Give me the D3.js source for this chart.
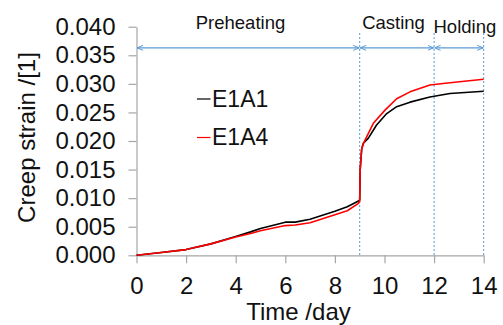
<!DOCTYPE html>
<html>
<head>
<meta charset="utf-8">
<script src="https://cdn.jsdelivr.net/npm/d3@7"></script>
<style>
  body { margin: 0; background: #fff; }
  svg { display: block; font-family: "Liberation Sans", Arial, sans-serif; }
</style>
</head>
<body>
<div id="chart"></div>
<script>
// Creep strain vs time, two specimens
const daysE1A1 = [0, 1, 2, 3, 4, 4.6, 5, 6, 6.4, 7, 8, 8.5, 8.95, 9.0, 9.02, 9.08, 9.15, 9.35, 9.68, 10.09, 10.49, 11.03, 11.83, 12.64, 14];
const strainE1A1 = [0, 0.0005, 0.0010, 0.0020, 0.0033, 0.0041, 0.0047, 0.0058, 0.0058, 0.0063, 0.0077, 0.0085, 0.0095, 0.0097, 0.0150, 0.0186, 0.0196, 0.0205, 0.0228, 0.0248, 0.0260, 0.0268, 0.0277, 0.0283, 0.0287];

const daysE1A4 = [0, 1, 2, 3, 4, 4.6, 5, 6, 6.4, 7, 8, 8.5, 8.95, 9.0, 9.02, 9.08, 9.15, 9.55, 10.02, 10.49, 11.03, 11.83, 12.64, 14];
const strainE1A4 = [0, 0.0005, 0.0010, 0.0020, 0.0032, 0.0038, 0.0043, 0.0052, 0.0053, 0.0057, 0.0071, 0.0078, 0.0091, 0.0094, 0.0150, 0.0186, 0.0196, 0.0231, 0.0254, 0.0274, 0.0286, 0.0298, 0.0302, 0.0308];

const xTicks = [0, 2, 4, 6, 8, 10, 12, 14];
const yTicks = [0, 0.005, 0.010, 0.015, 0.020, 0.025, 0.030, 0.035, 0.040];

// stage boundaries and names
const stageBounds = [0, 9, 12, 14];
const stageNames = ["Preheating", "Casting", "Holding"];
const arrowLevel = 0.0363;

const width = 503, height = 325;
const svg = d3.select("#chart").append("svg")
    .attr("width", width)
    .attr("height", height);

const x = d3.scaleLinear().domain([0, 14]).range([136.5, 483.7]);
const y = d3.scaleLinear().domain([0, 0.04]).range([255.3, 26.7]);

const axisColor = "#a6a6a6";
const blue = "#5b9bd5";

// axes
const yAxis = svg.append("g")
    .attr("transform", `translate(${x(0)},0)`)
    .call(d3.axisLeft(y).tickValues(yTicks).tickFormat(d3.format(".3f"))
        .tickSize(8).tickSizeOuter(0).tickPadding(13));
const xAxis = svg.append("g")
    .attr("transform", `translate(0,${y(0)})`)
    .call(d3.axisBottom(x).tickValues(xTicks).tickFormat(d3.format("d"))
        .tickSize(8).tickSizeOuter(0).tickPadding(13.5));

[yAxis, xAxis].forEach(g => {
    g.select(".domain").attr("stroke", axisColor).attr("stroke-width", 1.2);
    g.selectAll(".tick line").attr("stroke", axisColor).attr("stroke-width", 1.2);
    g.selectAll(".tick text")
        .attr("fill", "#111")
        .attr("font-size", "24px")
        .attr("font-family", "Liberation Sans, Arial, sans-serif");
});

// axis titles
svg.append("text")
    .attr("x", 298.5)
    .attr("y", 320)
    .attr("text-anchor", "middle")
    .attr("font-size", "24px")
    .attr("fill", "#111")
    .text("Time /day");

svg.append("text")
    .attr("transform", "translate(35,137.5) rotate(-90)")
    .attr("text-anchor", "middle")
    .attr("font-size", "24px")
    .attr("fill", "#111")
    .text("Creep strain /[1]");

// stage boundary dashed lines
svg.selectAll(".stage-line")
    .data(stageBounds.slice(1))
    .enter().append("line")
    .attr("x1", d => x(d))
    .attr("x2", d => x(d))
    .attr("y1", 33)
    .attr("y2", y(0))
    .attr("stroke", blue)
    .attr("stroke-width", 1)
    .attr("stroke-dasharray", "2,2");

// arrow markers
const defs = svg.append("defs");
defs.append("marker")
    .attr("id", "arrEnd")
    .attr("markerWidth", 8).attr("markerHeight", 8)
    .attr("refX", 6).attr("refY", 4)
    .attr("orient", "auto")
    .attr("markerUnits", "userSpaceOnUse")
    .append("path")
    .attr("d", "M0,1.5 L6,4 L0,6.5")
    .attr("fill", "none")
    .attr("stroke", blue)
    .attr("stroke-width", 1);
defs.append("marker")
    .attr("id", "arrStart")
    .attr("markerWidth", 8).attr("markerHeight", 8)
    .attr("refX", 0).attr("refY", 4)
    .attr("orient", "auto")
    .attr("markerUnits", "userSpaceOnUse")
    .append("path")
    .attr("d", "M6,1.5 L0,4 L6,6.5")
    .attr("fill", "none")
    .attr("stroke", blue)
    .attr("stroke-width", 1);

const stages = stageNames.map((name, i) => ({ name, from: stageBounds[i], to: stageBounds[i + 1] }));

svg.selectAll(".stage-arrow")
    .data(stages)
    .enter().append("line")
    .attr("x1", d => x(d.from) + 0.5)
    .attr("x2", d => x(d.to) - 0.5)
    .attr("y1", y(arrowLevel))
    .attr("y2", y(arrowLevel))
    .attr("stroke", blue)
    .attr("stroke-width", 1.2)
    .attr("marker-start", "url(#arrStart)")
    .attr("marker-end", "url(#arrEnd)");

// stage labels
const labelPos = [
    { x: 240.5, y: 29.3, anchor: "middle" },
    { x: 393.5, y: 29.3, anchor: "middle" },
    { x: 433.5, y: 33.3, anchor: "start" }
];
svg.selectAll(".stage-label")
    .data(stages)
    .enter().append("text")
    .attr("x", (d, i) => labelPos[i].x)
    .attr("y", (d, i) => labelPos[i].y)
    .attr("text-anchor", (d, i) => labelPos[i].anchor)
    .attr("font-size", "18.5px")
    .attr("fill", "#111")
    .text(d => d.name);

// curves
const line = d3.line().x(d => x(d[0])).y(d => y(d[1]));
const series = [
    { name: "E1A1", color: "#000000", pts: d3.zip(daysE1A1, strainE1A1) },
    { name: "E1A4", color: "#ff0000", pts: d3.zip(daysE1A4, strainE1A4) }
];

svg.selectAll(".curve")
    .data(series)
    .enter().append("path")
    .attr("d", d => line(d.pts))
    .attr("fill", "none")
    .attr("stroke", d => d.color)
    .attr("stroke-width", 1.6)
    .attr("stroke-linejoin", "round");

// legend
const legend = svg.selectAll(".legend")
    .data(series)
    .enter().append("g")
    .attr("transform", (d, i) => `translate(197,${99 + i * 38.5})`);
legend.append("line")
    .attr("x1", 0).attr("x2", 13.5)
    .attr("y1", 0).attr("y2", 0)
    .attr("stroke", d => d.color)
    .attr("stroke-width", 1.2);
legend.append("text")
    .attr("x", 15)
    .attr("y", 7.5)
    .attr("font-size", "23px")
    .attr("fill", "#111")
    .text(d => d.name);
</script>
</body>
</html>
